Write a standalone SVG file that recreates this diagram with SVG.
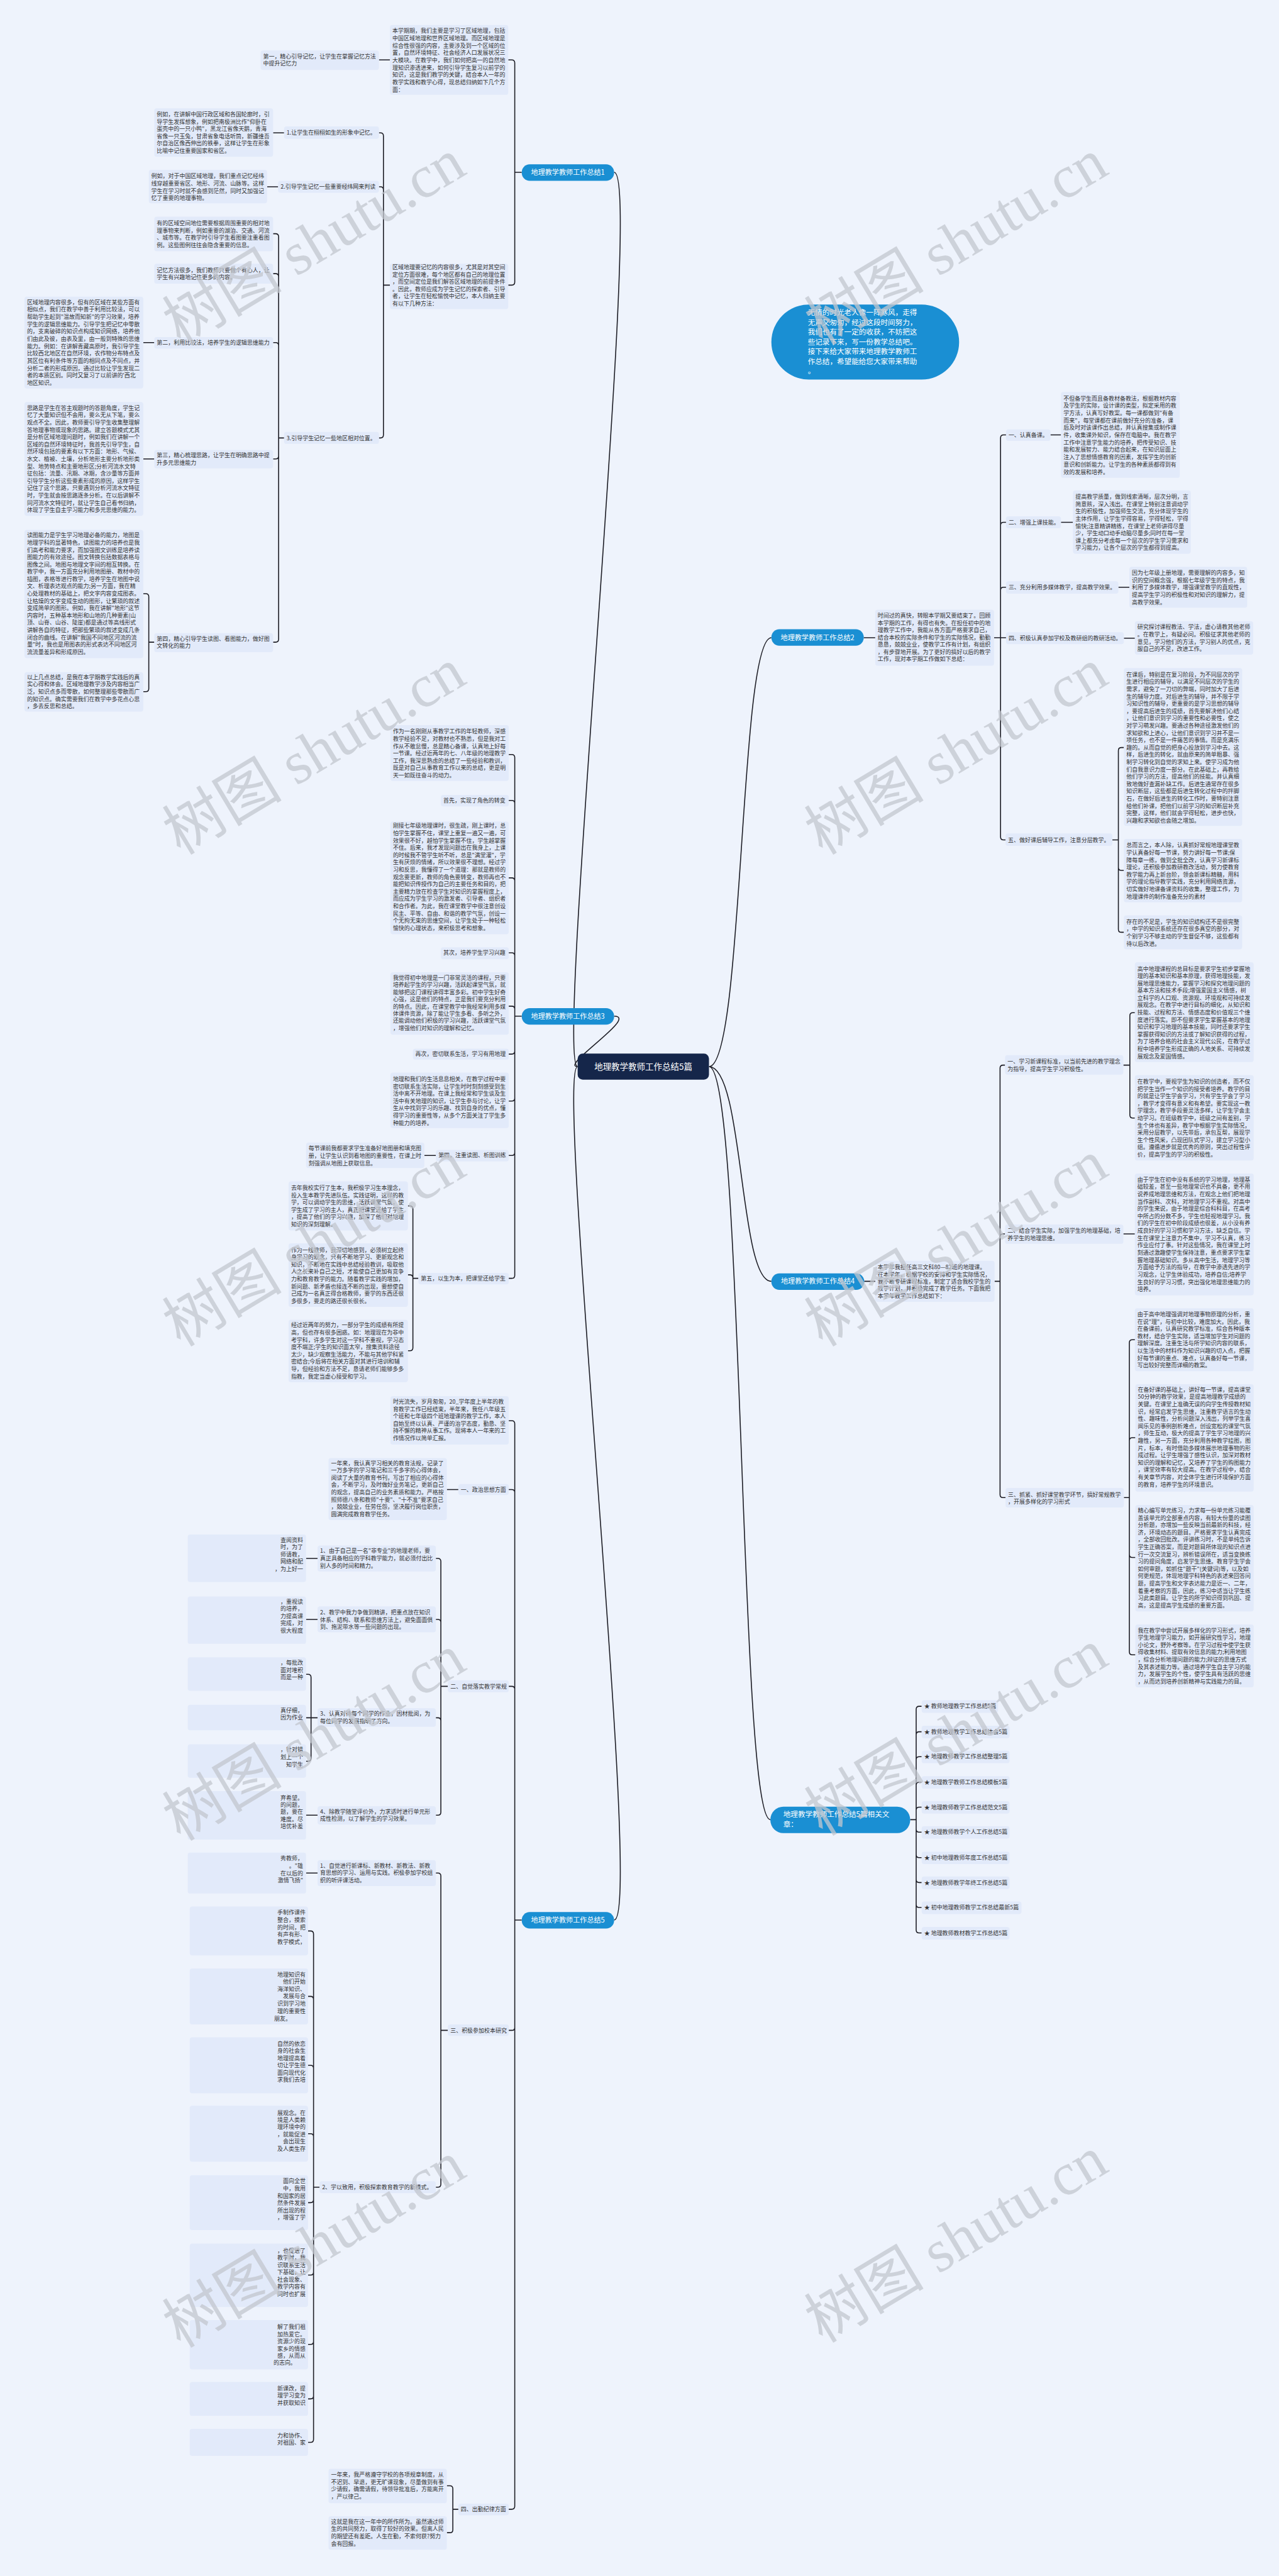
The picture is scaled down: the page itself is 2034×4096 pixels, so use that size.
<svg xmlns="http://www.w3.org/2000/svg" width="2034" height="4096" viewBox="0 0 2034 4096">
<style>
.b{fill:#e2eafa}
.t{font-family:"Noto Sans CJK SC","Liberation Sans",sans-serif;font-size:11.3px;fill:#333}
.te{font-family:"Noto Sans CJK SC","Liberation Sans",sans-serif;font-size:11.3px;fill:#333;text-anchor:end}
.c{fill:none;stroke:#1c1c24;stroke-width:2}
.s{fill:#1a8fd3}
.st{font-family:"Noto Sans CJK SC","Liberation Sans",sans-serif;font-size:14px;fill:#fff;text-anchor:middle}
.ct{font-family:"Noto Sans CJK SC","Liberation Sans",sans-serif;font-size:14.6px;fill:#fff}
.w{font-family:"Liberation Serif","Noto Sans CJK SC",serif;font-size:120px;fill:#c3c7cf;opacity:0.75;text-anchor:middle}
</style>
<rect width="2034" height="4096" fill="#eef3fc"/>
<g transform="scale(0.794)">
<g id="connectors">
<path class="c" d="M1045,345 H1031 V126 Q1031,120 1025,120 H1018 M1045,345 H1031 V565 Q1031,571 1025,571 H1018 M781,120 H759 M781,571 H768 V272 Q768,266 762,266 H759 M781,571 H768 V380 Q768,374 762,374 H759 M781,571 H768 V871 Q768,877 762,877 H759 M569,266 H547 M557,374 H535 M569,877 H558 V474 Q558,468 552,468 H547 M569,877 H558 V554 Q558,548 552,548 H547 M569,877 H558 V692 Q558,686 552,686 H547 M569,877 H558 V913 Q558,919 552,919 H547 M569,877 H558 V1280 Q558,1286 552,1286 H547 M309,686 H287 M309,919 H287 M309,1286 H298 V1195 Q298,1189 292,1189 H287 M309,1286 H298 V1379 Q298,1385 292,1385 H287"/>
<path class="c" d="M1730,1277 H1753 M1991,1277 H2004 V877 Q2004,871 2010,871 H2015 M1991,1277 H2004 V1052 Q2004,1046 2010,1046 H2015 M1991,1277 H2004 V1182 Q2004,1176 2010,1176 H2015 M1991,1277 H2015 M1991,1277 H2004 V1676 Q2004,1682 2010,1682 H2014 M2104,871 H2125 M2125,1046 H2149 M2240,1176 H2262 M2251,1278 H2273 M2228,1682 H2240 V1503 Q2240,1497 2246,1497 H2251 M2228,1682 H2240 V1737 Q2240,1743 2246,1743 H2251 M2228,1682 H2240 V1861 Q2240,1867 2246,1867 H2251"/>
<path class="c" d="M1045,2035 H1031 V1517 Q1031,1511 1025,1511 H1019 M1045,2035 H1031 V1609 Q1031,1603 1025,1603 H1019 M1045,2035 H1031 V1764 Q1031,1758 1025,1758 H1019 M1045,2035 H1031 V1914 Q1031,1908 1025,1908 H1019 M1045,2035 H1031 V2021 Q1031,2015 1025,2015 H1019 M1045,2035 H1031 V2105 Q1031,2111 1025,2111 H1019 M1045,2035 H1031 V2199 Q1031,2205 1025,2205 H1019 M1045,2035 H1031 V2308 Q1031,2314 1025,2314 H1019 M1045,2035 H1031 V2554 Q1031,2560 1025,2560 H1019 M873,2314 H850 M838,2560 H827 V2421 Q827,2415 821,2415 H817 M838,2560 H827 V2559 Q827,2553 821,2553 H817 M838,2560 H827 V2699 Q827,2705 821,2705 H817"/>
<path class="c" d="M1731,2566 H1753 M1992,2566 H2003 V2139 Q2003,2133 2009,2133 H2013 M1992,2566 H2003 V2477 Q2003,2471 2009,2471 H2013 M1992,2566 H2003 V2993 Q2003,2999 2009,2999 H2014 M2250,2133 H2263 V2034 Q2263,2028 2269,2028 H2273 M2250,2133 H2263 V2233 Q2263,2239 2269,2239 H2273 M2250,2471 H2273 M2251,2999 H2262 V2689 Q2262,2683 2268,2683 H2274 M2251,2999 H2262 V2885 Q2262,2879 2268,2879 H2274 M2251,2999 H2262 V3113 Q2262,3119 2268,3119 H2274 M2251,2999 H2262 V3308 Q2262,3314 2268,3314 H2274"/>
<path class="c" d="M1823,3644 H1835 V3423 Q1835,3417 1841,3417 H1846 M1823,3644 H1835 V3474 Q1835,3468 1841,3468 H1846 M1823,3644 H1835 V3524 Q1835,3518 1841,3518 H1846 M1823,3644 H1835 V3575 Q1835,3569 1841,3569 H1846 M1823,3644 H1835 V3625 Q1835,3619 1841,3619 H1846 M1823,3644 H1835 V3663 Q1835,3669 1841,3669 H1846 M1823,3644 H1835 V3714 Q1835,3720 1841,3720 H1846 M1823,3644 H1835 V3764 Q1835,3770 1841,3770 H1846 M1823,3644 H1835 V3814 Q1835,3820 1841,3820 H1846 M1823,3644 H1835 V3865 Q1835,3871 1841,3871 H1846"/>
<path class="c" d="M1045,3845 H1031 V2851 Q1031,2845 1025,2845 H1019 M1045,3845 H1031 V2989 Q1031,2983 1025,2983 H1019 M1045,3845 H1031 V3383 Q1031,3377 1025,3377 H1019 M1045,3845 H1031 V4060 Q1031,4066 1025,4066 H1019 M1045,3845 H1031 V5019 Q1031,5025 1025,5025 H1019 M918,2983 H895 M897,3377 H883 V3127 Q883,3121 877,3121 H873 M897,3377 H883 V3249 Q883,3243 877,3243 H873 M897,3377 H883 V3446 Q883,3440 877,3440 H873 M897,3377 H883 V3629 Q883,3635 877,3635 H873 M897,4066 H883 V3757 Q883,3751 877,3751 H873 M897,4066 H883 V4374 Q883,4380 877,4380 H873 M918,5025 H907 V4984 Q907,4978 901,4978 H895 M918,5025 H907 V5066 Q907,5072 901,5072 H895"/>
<path class="c" d="M636,3121 H613 M636,3243 H613 M636,3440 H623 V3359 Q623,3353 617,3353 H613 M636,3440 H613 M636,3440 H623 V3521 Q623,3527 617,3527 H613 M636,3635 H613 M636,3751 H613 M640,4380 H628 V3873 Q628,3867 622,3867 H617 M640,4380 H628 V4004 Q628,3998 622,3998 H617 M640,4380 H628 V4142 Q628,4136 622,4136 H617 M640,4380 H628 V4279 Q628,4273 622,4273 H617 M640,4380 H628 V4405 Q628,4411 622,4411 H617 M640,4380 H628 V4550 Q628,4556 622,4556 H617 M640,4380 H628 V4689 Q628,4695 622,4695 H617 M640,4380 H628 V4798 Q628,4804 622,4804 H617 M640,4380 H628 V4885 Q628,4891 622,4891 H617"/>
<path class="c" d="M1157,2136 C1110,2136 1290,345 1230,345 M1157,2136 C1120,2136 1280,2035 1230,2035 M1157,2136 C1110,2136 1290,3845 1230,3845 M1420,2136 C1490,2136 1480,1277 1545,1277 M1420,2136 C1490,2136 1480,2566 1545,2566 M1420,2136 C1490,2136 1480,3644 1543,3644"/>
</g>
<g id="center"><rect x="1157" y="2110" width="263" height="52" rx="10" fill="#15264a"/><text class="st" x="1288.5" y="2142" style="font-size:17px">地理教学教师工作总结5篇</text></g>
<g id="intro"><rect class="s" x="1545" y="610" width="376" height="150" rx="75"/><text class="ct" x="1618" y="631"><tspan x="1618">无情的时光老人像一阵寒风，走得</tspan><tspan x="1618" dy="19.6">无声又匆匆，经过这段时间努力，</tspan><tspan x="1618" dy="19.6">我们也有了一定的收获，不妨把这</tspan><tspan x="1618" dy="19.6">些记录下来，写一份教学总结吧。</tspan><tspan x="1618" dy="19.6">接下来给大家带来地理教学教师工</tspan><tspan x="1618" dy="19.6">作总结，希望能给您大家带来帮助</tspan><tspan x="1618" dy="19.6">。</tspan></text></g>
<g id="sec1"><rect class="s" x="1045" y="329" width="185" height="33" rx="16"/><text class="st" x="1137.5" y="350">地理教学教师工作总结1</text></g>
<g id="sec2"><rect class="s" x="1545" y="1260" width="185" height="33" rx="16"/><text class="st" x="1637.5" y="1282">地理教学教师工作总结2</text></g>
<g id="sec3"><rect class="s" x="1045" y="2019" width="185" height="33" rx="16"/><text class="st" x="1137.5" y="2040">地理教学教师工作总结3</text></g>
<g id="sec4"><rect class="s" x="1545" y="2550" width="186" height="33" rx="16"/><text class="st" x="1638" y="2571">地理教学教师工作总结4</text></g>
<g id="sec5"><rect class="s" x="1045" y="3829" width="185" height="33" rx="16"/><text class="st" x="1137.5" y="3850">地理教学教师工作总结5</text></g>
<g id="s1a"><rect class="b" x="781" y="50" width="237" height="140" rx="5"/><text class="t" x="786" y="66"><tspan x="786">本学期期，我们主要是学习了区域地理，包括</tspan><tspan x="786" dy="14.7">中国区域地理和世界区域地理。而区域地理是</tspan><tspan x="786" dy="14.7">综合性很强的内容，主要涉及到一个区域的位</tspan><tspan x="786" dy="14.7">置，自然环境特征、社会经济人口发展状况三</tspan><tspan x="786" dy="14.7">大模块。在教学中，我们如何把高一的自然地</tspan><tspan x="786" dy="14.7">理知识渗透进来，如何引导学生复习以前学的</tspan><tspan x="786" dy="14.7">知识，这是我们教学的关键，结合本人一年的</tspan><tspan x="786" dy="14.7">教学实践和教学心得，现总结归纳如下几个方</tspan><tspan x="786" dy="14.7">面：</tspan></text></g>
<g id="s1b"><rect class="b" x="522" y="101" width="237" height="39" rx="5"/><text class="t" x="527" y="117"><tspan x="527">第一，精心引导记忆，让学生在掌握记忆方法</tspan><tspan x="527" dy="14.4">中提升记忆力</tspan></text></g>
<g id="s1c"><rect class="b" x="781" y="528" width="237" height="91" rx="5"/><text class="t" x="786" y="539"><tspan x="786">区域地理要记忆的内容很多，尤其是对其空间</tspan><tspan x="786" dy="14.6">定位方面很难，每个地区都有自己的地理位置</tspan><tspan x="786" dy="14.6">，而空间定位是我们解答区域地理的前提条件</tspan><tspan x="786" dy="14.6">。因此，教师应成为学生记忆的探索者、引导</tspan><tspan x="786" dy="14.6">者，让学生在轻松愉悦中记忆，本人归纳主要</tspan><tspan x="786" dy="14.6">有以下几种方法：</tspan></text></g>
<g id="s1n1"><rect class="b" x="569" y="253" width="190" height="25" rx="5"/><text class="t" x="574" y="270">1.让学生在栩栩如生的形象中记忆。</text></g>
<g id="s1n1a"><rect class="b" x="309" y="217" width="238" height="97" rx="5"/><text class="t" x="314" y="233"><tspan x="314">例如，在讲解中国行政区域和各国轮廓时，引</tspan><tspan x="314" dy="14.6">导学生发挥想象，例如把南极洲比作"仰卧在</tspan><tspan x="314" dy="14.6">蛋壳中的一只小鸭"，黑龙江省像天鹅，青海</tspan><tspan x="314" dy="14.6">省像一只玉兔，甘肃省象电话听筒，新疆维吾</tspan><tspan x="314" dy="14.6">尔自治区像西伸出的铁拳，这样让学生在形象</tspan><tspan x="314" dy="14.6">比喻中记住重要国家和省区。</tspan></text></g>
<g id="s1n2"><rect class="b" x="557" y="362" width="202" height="24" rx="5"/><text class="t" x="562" y="378">2.引导学生记忆一些重要经纬网来判读</text></g>
<g id="s1n2a"><rect class="b" x="298" y="340" width="237" height="67" rx="5"/><text class="t" x="303" y="357"><tspan x="303">例如，对于中国区域地理，我们重点记忆经纬</tspan><tspan x="303" dy="14.6">线穿越重要省区、地形、河流、山脉等。这样</tspan><tspan x="303" dy="14.6">学生在学习时就不会感到茫然，同时又加强记</tspan><tspan x="303" dy="14.6">忆了重要的地理事物。</tspan></text></g>
<g id="s1n3"><rect class="b" x="569" y="865" width="190" height="24" rx="5"/><text class="t" x="574" y="881">3.引导学生记忆一些地区相对位置。</text></g>
<g id="s1n3a"><rect class="b" x="309" y="434" width="238" height="69" rx="5"/><text class="t" x="314" y="451"><tspan x="314">有的区域空间地位需要根据周围重要的相对地</tspan><tspan x="314" dy="14.6">理事物来判断，例如重要的湖泊、交通、河流</tspan><tspan x="314" dy="14.6">、城市等。在教学时引导学生看图要注重看图</tspan><tspan x="314" dy="14.6">例。这些图例往往会隐含重要的信息。</tspan></text></g>
<g id="s1n3b"><rect class="b" x="309" y="528" width="238" height="40" rx="5"/><text class="t" x="314" y="545"><tspan x="314">记忆方法很多，我们教师只要做个有心人，让</tspan><tspan x="314" dy="14.6">学生有兴趣地记住更多的内容。</tspan></text></g>
<g id="s1d2"><rect class="b" x="309" y="675" width="238" height="23" rx="5"/><text class="t" x="314" y="690">第二，利用比较法，培养学生的逻辑思维能力</text></g>
<g id="s1d3"><rect class="b" x="309" y="901" width="238" height="37" rx="5"/><text class="t" x="314" y="916"><tspan x="314">第三，精心梳理思路，让学生在明确思路中提</tspan><tspan x="314" dy="14.6">升多元思维能力</tspan></text></g>
<g id="s1d4"><rect class="b" x="309" y="1268" width="238" height="38" rx="5"/><text class="t" x="314" y="1283"><tspan x="314">第四，精心引导学生读图、看图能力，做好图</tspan><tspan x="314" dy="14.6">文转化的能力</tspan></text></g>
<g id="s1d2a"><rect class="b" x="49" y="594" width="238" height="184" rx="5"/><text class="t" x="54" y="609"><tspan x="54">区域地理内容很多，但有的区域在某些方面有</tspan><tspan x="54" dy="14.7">相似点，我们在教学中善于利用比较法，可以</tspan><tspan x="54" dy="14.7">帮助学生起到"温故而知新"的学习效果，培养</tspan><tspan x="54" dy="14.7">学生的逻辑思维能力。引导学生把记忆中零散</tspan><tspan x="54" dy="14.7">的，支离破碎的知识点构成知识网络，培养他</tspan><tspan x="54" dy="14.7">们由此及彼，由表及里，由一般到特殊的思维</tspan><tspan x="54" dy="14.7">能力。例如：在讲解青藏高原时，我引导学生</tspan><tspan x="54" dy="14.7">比较西北地区在自然环境，农作物分布特点及</tspan><tspan x="54" dy="14.7">其区位有利条件等方面的相同点及不同点，并</tspan><tspan x="54" dy="14.7">分析二者的形成原因，通过比较让学生发现二</tspan><tspan x="54" dy="14.7">者的本质区别。同时又复习了以前讲的'西北</tspan><tspan x="54" dy="14.7">地区知识。</tspan></text></g>
<g id="s1d3a"><rect class="b" x="49" y="805" width="238" height="228" rx="5"/><text class="t" x="54" y="821"><tspan x="54">思路是学生在答主观题时的答题角度，学生记</tspan><tspan x="54" dy="14.6">忆了大量知识但不会用，要么无从下笔，要么</tspan><tspan x="54" dy="14.6">观点不全。因此，教师要引导学生收集整理解</tspan><tspan x="54" dy="14.6">答地理事物或现象的思路。建立答题模式尤其</tspan><tspan x="54" dy="14.6">是分析区域地理问题时，例如我们在讲解一个</tspan><tspan x="54" dy="14.6">区域的自然环境特征时，我首先引导学生，自</tspan><tspan x="54" dy="14.6">然环境包括的要素有以下方面：地形、气候、</tspan><tspan x="54" dy="14.6">水文、植被、土壤，分析地形主要分析地形类</tspan><tspan x="54" dy="14.6">型、地势特点和主要地形区;分析河流水文特</tspan><tspan x="54" dy="14.6">征包括：流量、汛期、冰期，含沙量等方面并</tspan><tspan x="54" dy="14.6">引导学生分析这些要素形成的原因，这样学生</tspan><tspan x="54" dy="14.6">记住了这个思路，只要遇到分析河流水文特征</tspan><tspan x="54" dy="14.6">时，学生就会按思路逐条分析。在以后讲解不</tspan><tspan x="54" dy="14.6">同河流水文特征时，就让学生自己看书归纳，</tspan><tspan x="54" dy="14.6">体现了学生自主学习能力和多元思维的能力。</tspan></text></g>
<g id="s1d4a"><rect class="b" x="49" y="1061" width="238" height="257" rx="5"/><text class="t" x="54" y="1076"><tspan x="54">读图能力是学生学习地理必备的能力，地图是</tspan><tspan x="54" dy="14.6">地理学科的显著特色，读图能力的培养也是我</tspan><tspan x="54" dy="14.6">们高考和能力要求，而加强图文训练是培养读</tspan><tspan x="54" dy="14.6">图能力的有效途径。图文转换包括数据表格与</tspan><tspan x="54" dy="14.6">图像之间。地图与地理文字间的相互转换。在</tspan><tspan x="54" dy="14.6">教学中，我一方面充分利用地图册、教材中的</tspan><tspan x="54" dy="14.6">插图，表格等进行教学，培养学生在地图中说</tspan><tspan x="54" dy="14.6">文、析理表达观点的能力;另一方面，我在精</tspan><tspan x="54" dy="14.6">心处理教材的基础上，把文字内容变成图表。</tspan><tspan x="54" dy="14.6">让枯燥的文字变成生动的图形，让繁琐的叙述</tspan><tspan x="54" dy="14.6">变成简单的图形。例如，我在讲解"地形"这节</tspan><tspan x="54" dy="14.6">内容时，五种基本地形和山地的几种要素(山</tspan><tspan x="54" dy="14.6">顶、山脊、山谷、陡崖)都是通过等高线形式</tspan><tspan x="54" dy="14.6">讲解各自的特征，把那些繁琐的叙述变成几条</tspan><tspan x="54" dy="14.6">闭合的曲线。在讲解"我国不同地区河流的流</tspan><tspan x="54" dy="14.6">量"时，我也是用图表的形式表达不同地区河</tspan><tspan x="54" dy="14.6">流流量差异和形成原因。</tspan></text></g>
<g id="s1d4b"><rect class="b" x="49" y="1346" width="238" height="79" rx="5"/><text class="t" x="54" y="1360"><tspan x="54">以上几点总结，是我在本学期教学实践后的真</tspan><tspan x="54" dy="14.6">实心得和体会。区域地理教学涉及内容相当广</tspan><tspan x="54" dy="14.6">泛，知识点多而零散，如何整理那些零散而广</tspan><tspan x="54" dy="14.6">的知识点。确实需要我们在教学中多花点心思</tspan><tspan x="54" dy="14.6">，多去反思和总结。</tspan></text></g>
<g id="s2a"><rect class="b" x="1753" y="1221" width="238" height="112" rx="5"/><text class="t" x="1758" y="1237"><tspan x="1758">时间过的真快，转眼本学期又要结束了。回顾</tspan><tspan x="1758" dy="14.5">本学期的工作，有得也有失。在担任初中的地</tspan><tspan x="1758" dy="14.5">理教学工作中，我能从各方面严格要求自己，</tspan><tspan x="1758" dy="14.5">结合本校的实际条件和学生的实际情况，勤勤</tspan><tspan x="1758" dy="14.5">恳恳，兢兢业业，使教学工作有计划，有组织</tspan><tspan x="1758" dy="14.5">，有步骤地开展。为了更好的搞好以后的教学</tspan><tspan x="1758" dy="14.5">工作，现对本学期工作做如下总结：</tspan></text></g>
<g id="s2n1"><rect class="b" x="2015" y="860" width="89" height="23" rx="5"/><text class="t" x="2020" y="875">一、认真备课。</text></g>
<g id="s2n1a"><rect class="b" x="2125" y="785" width="238" height="172" rx="5"/><text class="t" x="2130" y="802"><tspan x="2130">不但备学生而且备教材备教法，根据教材内容</tspan><tspan x="2130" dy="14.7">及学生的实际，设计课的类型，拟定采用的教</tspan><tspan x="2130" dy="14.7">学方法，认真写好教案。每一课都做到"有备</tspan><tspan x="2130" dy="14.7">而来"，每堂课都在课前做好充分的准备，课</tspan><tspan x="2130" dy="14.7">后及时对该课作出总结，并认真搜集或制作课</tspan><tspan x="2130" dy="14.7">件，收集课外知识，保存在电脑中。我在教学</tspan><tspan x="2130" dy="14.7">工作中注意学生能力的培养，把传受知识、技</tspan><tspan x="2130" dy="14.7">能和发展智力、能力结合起来，在知识层面上</tspan><tspan x="2130" dy="14.7">注入了思想情感教育的因素，发挥学生的创新</tspan><tspan x="2130" dy="14.7">意识和创新能力。让学生的各种素质都得到有</tspan><tspan x="2130" dy="14.7">效的发展和培养。</tspan></text></g>
<g id="s2n2"><rect class="b" x="2015" y="1034" width="110" height="24" rx="5"/><text class="t" x="2020" y="1050">二、增强上课技能。</text></g>
<g id="s2n2a"><rect class="b" x="2149" y="982" width="236" height="127" rx="5"/><text class="t" x="2154" y="999"><tspan x="2154">提高教学质量，做到线索清晰，层次分明，言</tspan><tspan x="2154" dy="14.6">简意赅，深入浅出。在课堂上特别注意调动学</tspan><tspan x="2154" dy="14.6">生的积极性，加强师生交流，充分体现学生的</tspan><tspan x="2154" dy="14.6">主体作用，让学生学得容易，学得轻松，学得</tspan><tspan x="2154" dy="14.6">愉快;注意精讲精练，在课堂上老师讲得尽量</tspan><tspan x="2154" dy="14.6">少，学生动口动手动脑尽量多;同时在每一堂</tspan><tspan x="2154" dy="14.6">课上都充分考虑每一个层次的学生学习需求和</tspan><tspan x="2154" dy="14.6">学习能力，让各个层次的学生都得到提高。</tspan></text></g>
<g id="s2n3"><rect class="b" x="2015" y="1164" width="225" height="25" rx="5"/><text class="t" x="2020" y="1180">三、充分利用多媒体教学，提高教学效果。</text></g>
<g id="s2n3a"><rect class="b" x="2262" y="1135" width="236" height="82" rx="5"/><text class="t" x="2267" y="1151"><tspan x="2267">因为七年级上册地理，需要理解的内容多，知</tspan><tspan x="2267" dy="14.7">识的空间概念强，根据七年级学生的特点，我</tspan><tspan x="2267" dy="14.7">利用了多媒体教学，增强课堂教学的直观性，</tspan><tspan x="2267" dy="14.7">提高学生学习的积极性和对知识的理解力，提</tspan><tspan x="2267" dy="14.7">高教学效果。</tspan></text></g>
<g id="s2n4"><rect class="b" x="2015" y="1266" width="236" height="24" rx="5"/><text class="t" x="2020" y="1282">四、积极认真参加学校及教研组的教研活动。</text></g>
<g id="s2n4a"><rect class="b" x="2273" y="1244" width="237" height="67" rx="5"/><text class="t" x="2278" y="1260"><tspan x="2278">研究探讨课程教法、学法，虚心请教其他老师</tspan><tspan x="2278" dy="14.7">。在教学上，有疑必问。积极征求其他老师的</tspan><tspan x="2278" dy="14.7">意见，学习他们的方法，学习别人的优点，克</tspan><tspan x="2278" dy="14.7">服自己的不足，改进工作。</tspan></text></g>
<g id="s2n5"><rect class="b" x="2014" y="1669" width="214" height="25" rx="5"/><text class="t" x="2019" y="1686">五、做好课后辅导工作，注意分层教学。</text></g>
<g id="s2n5a"><rect class="b" x="2251" y="1338" width="237" height="316" rx="5"/><text class="t" x="2256" y="1355"><tspan x="2256">在课后，特别是在复习阶段，为不同层次的学</tspan><tspan x="2256" dy="14.6">生进行相应的辅导，以满足不同层次的学生的</tspan><tspan x="2256" dy="14.6">需求，避免了一刀切的弊端，同时加大了后进</tspan><tspan x="2256" dy="14.6">生的辅导力度。对后进生的辅导，并不限于学</tspan><tspan x="2256" dy="14.6">习知识性的辅导，更重要的是学习思想的辅导</tspan><tspan x="2256" dy="14.6">，要提高后进生的成绩，首先要解决他们心结</tspan><tspan x="2256" dy="14.6">，让他们意识到学习的重要性和必要性，使之</tspan><tspan x="2256" dy="14.6">对学习萌发兴趣。要通过各种途径激发他们的</tspan><tspan x="2256" dy="14.6">求知欲和上进心，让他们意识到学习并不是一</tspan><tspan x="2256" dy="14.6">项任务，也不是一件痛苦的事情。而是充满乐</tspan><tspan x="2256" dy="14.6">趣的。从而自觉的把身心投放到学习中去。这</tspan><tspan x="2256" dy="14.6">样，后进生的转化，就由原来的简单粗暴、强</tspan><tspan x="2256" dy="14.6">制学习转化到自觉的求知上来。使学习成为他</tspan><tspan x="2256" dy="14.6">们自我意识力度一部分。在此基础上，再教给</tspan><tspan x="2256" dy="14.6">他们学习的方法，提高他们的技能。并认真细</tspan><tspan x="2256" dy="14.6">致地做好查漏补缺工作。后进生通常存在很多</tspan><tspan x="2256" dy="14.6">知识断层，这些都是后进生转化过程中的拌脚</tspan><tspan x="2256" dy="14.6">石，在做好后进生的转化工作时，要特别注意</tspan><tspan x="2256" dy="14.6">给他们补课，把他们以前学习的知识断层补充</tspan><tspan x="2256" dy="14.6">完整，这样，他们就会学得轻松，进步也快，</tspan><tspan x="2256" dy="14.6">兴趣和求知欲也会随之增加。</tspan></text></g>
<g id="s2n5b"><rect class="b" x="2251" y="1680" width="237" height="127" rx="5"/><text class="t" x="2256" y="1697"><tspan x="2256">总而言之，本人除，认真抓好常规地理课堂教</tspan><tspan x="2256" dy="14.6">学认真备好每一节课，努力讲好每一节课;保</tspan><tspan x="2256" dy="14.6">障每章一练，做到全批全改，认真学习新课标</tspan><tspan x="2256" dy="14.6">理论，还积极参加教研教改活动，努力使教育</tspan><tspan x="2256" dy="14.6">教学能力再上新台阶，领会新课标精髓，用科</tspan><tspan x="2256" dy="14.6">学的理论指导教学实践，充分利用网络资源，</tspan><tspan x="2256" dy="14.6">切实做好地课备课资料的收集，整理工作，为</tspan><tspan x="2256" dy="14.6">地理课件的制作准备充分的素材</tspan></text></g>
<g id="s2n5c"><rect class="b" x="2251" y="1833" width="237" height="68" rx="5"/><text class="t" x="2256" y="1850"><tspan x="2256">存在的不足是，学生的知识结构还不是很完整</tspan><tspan x="2256" dy="14.6">，中学的知识系统还存在很多真空的部分，对</tspan><tspan x="2256" dy="14.6">个别学习不够主动的学生督促不够，这些都有</tspan><tspan x="2256" dy="14.6">待以后改进。</tspan></text></g>
<g id="s3a"><rect class="b" x="782" y="1452" width="237" height="112" rx="5"/><text class="t" x="787" y="1469"><tspan x="787">作为一名刚刚从事教学工作的年轻教师，深感</tspan><tspan x="787" dy="14.6">教学经验不足，对教材也不熟悉，但是我对工</tspan><tspan x="787" dy="14.6">作从不敢怠慢，总是精心备课，认真地上好每</tspan><tspan x="787" dy="14.6">一节课。经过近两年的七、八年级的地理教学</tspan><tspan x="787" dy="14.6">工作，我深思熟虑的总结了一些经验和教训，</tspan><tspan x="787" dy="14.6">既是对自己从事教育工作以来的总结，更是明</tspan><tspan x="787" dy="14.6">天一如既往奋斗的动力。</tspan></text></g>
<g id="s3b"><rect class="b" x="883" y="1592" width="136" height="23" rx="5"/><text class="t" x="888" y="1607">首先，实现了角色的转变</text></g>
<g id="s3c"><rect class="b" x="782" y="1645" width="237" height="226" rx="5"/><text class="t" x="787" y="1658"><tspan x="787">刚接七年级地理课时，很生疏，刚上课时，总</tspan><tspan x="787" dy="14.6">怕学生掌握不住，课堂上重复一遍又一遍，可</tspan><tspan x="787" dy="14.6">效果很不好，越怕学生掌握不住，学生越掌握</tspan><tspan x="787" dy="14.6">不住。后来，我才发现问题出在我身上，上课</tspan><tspan x="787" dy="14.6">的时候我不管学生听不听，总是"满堂灌"，学</tspan><tspan x="787" dy="14.6">生有厌烦的情绪，所以效果很不理想。经过学</tspan><tspan x="787" dy="14.6">习和反思，我懂得了一个道理：那就是教师的</tspan><tspan x="787" dy="14.6">观念要更新，教师的角色要转变，教师再也不</tspan><tspan x="787" dy="14.6">能把知识传授作为自己的主要任务和目的，把</tspan><tspan x="787" dy="14.6">主要精力放在检查学生对知识的掌握程度上，</tspan><tspan x="787" dy="14.6">而应成为学生学习的激发者、引导者、组织者</tspan><tspan x="787" dy="14.6">和合作者。为此，我在课堂教学中很注意创设</tspan><tspan x="787" dy="14.6">民主、平等、自由、和谐的教学气氛，创设一</tspan><tspan x="787" dy="14.6">个无拘无束的思维空间，让学生处于一种轻松</tspan><tspan x="787" dy="14.6">愉快的心理状态，来积极思考和想象。</tspan></text></g>
<g id="s3d"><rect class="b" x="883" y="1897" width="136" height="24" rx="5"/><text class="t" x="888" y="1912">其次，培养学生学习兴趣</text></g>
<g id="s3e"><rect class="b" x="782" y="1947" width="237" height="125" rx="5"/><text class="t" x="787" y="1962"><tspan x="787">我觉得初中地理是一门非常灵活的课程，只要</tspan><tspan x="787" dy="14.4">培养起学生的学习兴趣，活跃起课堂气氛，就</tspan><tspan x="787" dy="14.4">能够把这门课程讲得丰富多彩。初中学生好奇</tspan><tspan x="787" dy="14.4">心强，这是他们的特点，正是我们要充分利用</tspan><tspan x="787" dy="14.4">的特点。因此，在课堂教学中我经常利用多媒</tspan><tspan x="787" dy="14.4">体课件资源，除了能让学生多看、多听之外，</tspan><tspan x="787" dy="14.4">还能调动他们积极的学习兴趣，活跃课堂气氛</tspan><tspan x="787" dy="14.4">，增强他们对知识的理解和记忆。</tspan></text></g>
<g id="s3f"><rect class="b" x="827" y="2100" width="192" height="22" rx="5"/><text class="t" x="832" y="2115">再次，密切联系生活，学习有用地理</text></g>
<g id="s3g"><rect class="b" x="782" y="2148" width="237" height="111" rx="5"/><text class="t" x="787" y="2165"><tspan x="787">地理和我们的生活息息相关，在教学过程中要</tspan><tspan x="787" dy="14.6">密切联系生活实际，让学生时时刻刻感受到生</tspan><tspan x="787" dy="14.6">活中离不开地理。在课上我经常和学生谈及生</tspan><tspan x="787" dy="14.6">活中有关地理的知识，让学生参与讨论，让学</tspan><tspan x="787" dy="14.6">生从中找到学习的乐趣、找到自身的优点，懂</tspan><tspan x="787" dy="14.6">得学习的重要性等，从多个方面关注了学生多</tspan><tspan x="787" dy="14.6">种能力的培养。</tspan></text></g>
<g id="s3h"><rect class="b" x="873" y="2303" width="146" height="23" rx="5"/><text class="t" x="878" y="2318">第四，注重读图、析图训练</text></g>
<g id="s3h1"><rect class="b" x="613" y="2288" width="237" height="51" rx="5"/><text class="t" x="618" y="2304"><tspan x="618">每节课前我都要求学生准备好地图册和填充图</tspan><tspan x="618" dy="14.6">册，让学生认识到看地图的重要性，在课上时</tspan><tspan x="618" dy="14.6">刻强调从地图上获取信息。</tspan></text></g>
<g id="s3i"><rect class="b" x="838" y="2549" width="181" height="23" rx="5"/><text class="t" x="843" y="2564">第五，以生为本，把课堂还给学生</text></g>
<g id="s3i1"><rect class="b" x="578" y="2366" width="239" height="98" rx="5"/><text class="t" x="583" y="2383"><tspan x="583">去年我校实行了生本，我积极学习生本理念，</tspan><tspan x="583" dy="14.5">投入生本教学先进队伍。实践证明，这样的教</tspan><tspan x="583" dy="14.5">学，可以调动学生的思维，活跃课堂气氛，使</tspan><tspan x="583" dy="14.5">学生成了学习的主人，真正把课堂还给了学生</tspan><tspan x="583" dy="14.5">，提高了他们的学习兴趣，加深了他们对地理</tspan><tspan x="583" dy="14.5">知识的深刻理解。</tspan></text></g>
<g id="s3i2"><rect class="b" x="578" y="2490" width="239" height="127" rx="5"/><text class="t" x="583" y="2507"><tspan x="583">作为一线教师，我深切地感到，必须树立起终</tspan><tspan x="583" dy="14.6">身学习的观念，只有不断地学习、更新观念和</tspan><tspan x="583" dy="14.6">知识，不断地在实践中总结经验教训，吸取他</tspan><tspan x="583" dy="14.6">人之长来补自己之短，才能使自己更加有竞争</tspan><tspan x="583" dy="14.6">力和教育教学的能力。随着教学实践的增加，</tspan><tspan x="583" dy="14.6">新问题、新矛盾也接连不断的出现，要想使自</tspan><tspan x="583" dy="14.6">己成为一名真正得合格教师，要学的东西还很</tspan><tspan x="583" dy="14.6">多很多，要走的路还很长很长。</tspan></text></g>
<g id="s3i3"><rect class="b" x="578" y="2643" width="239" height="125" rx="5"/><text class="t" x="583" y="2658"><tspan x="583">经过近两年的努力，一部分学生的成绩有所提</tspan><tspan x="583" dy="14.6">高，但也存有很多困惑。如：地理现在为非中</tspan><tspan x="583" dy="14.6">考学科，许多学生对这一学科不重视，学习态</tspan><tspan x="583" dy="14.6">度不端正;学生的知识面太窄，搜集资料途径</tspan><tspan x="583" dy="14.6">太少，缺少观察生活能力，不能与其他学科紧</tspan><tspan x="583" dy="14.6">密结合;今后将在相关方面对其进行培训和辅</tspan><tspan x="583" dy="14.6">导，但经验和方法不足，恳请老师们能够多多</tspan><tspan x="583" dy="14.6">指教，我定当虚心接受和学习。</tspan></text></g>
<g id="s4a"><rect class="b" x="1753" y="2525" width="239" height="82" rx="5"/><text class="t" x="1758" y="2542"><tspan x="1758">本学年我担任高三文科80—82班的地理课。</tspan><tspan x="1758" dy="14.3">在本学年，根据学校的安排和学生实际情况，</tspan><tspan x="1758" dy="14.3">我不断专研课程标准，制定了适合我校学生的</tspan><tspan x="1758" dy="14.3">教学计划，并积极完成了教学任务。下面我把</tspan><tspan x="1758" dy="14.3">本学年教学工作总结如下：</tspan></text></g>
<g id="s4n1"><rect class="b" x="2013" y="2113" width="237" height="39" rx="5"/><text class="t" x="2018" y="2130"><tspan x="2018">一、学习新课程标准，以当前先进的教学理念</tspan><tspan x="2018" dy="14.4">为指导，提高学生学习积极性。</tspan></text></g>
<g id="s4n1a"><rect class="b" x="2273" y="1927" width="238" height="200" rx="5"/><text class="t" x="2278" y="1944"><tspan x="2278">高中地理课程的总目标是要求学生初步掌握地</tspan><tspan x="2278" dy="14.6">理的基本知识和基本原理，获得地理技能，发</tspan><tspan x="2278" dy="14.6">展地理思维能力，掌握学习和探究地理问题的</tspan><tspan x="2278" dy="14.6">基本方法和技术手段;增强爱国主义情感，树</tspan><tspan x="2278" dy="14.6">立科学的人口观、资源观、环境观和可持续发</tspan><tspan x="2278" dy="14.6">展观念。在教学中进行目标的细化，从知识和</tspan><tspan x="2278" dy="14.6">技能、过程和方法、情感态度和价值观三个维</tspan><tspan x="2278" dy="14.6">度进行落实。即不但要求学生掌握基本的地理</tspan><tspan x="2278" dy="14.6">知识和学习地理的基本技能，同时还要求学生</tspan><tspan x="2278" dy="14.6">掌握获得知识的方法或了解知识获得的过程，</tspan><tspan x="2278" dy="14.6">为了培养合格的社会主义现代公民，在教学过</tspan><tspan x="2278" dy="14.6">程中培养学生形成正确的人地关系、可持续发</tspan><tspan x="2278" dy="14.6">展观念及爱国情感。</tspan></text></g>
<g id="s4n1b"><rect class="b" x="2273" y="2153" width="238" height="171" rx="5"/><text class="t" x="2278" y="2170"><tspan x="2278">在教学中，要视学生为知识的创造者，而不仅</tspan><tspan x="2278" dy="14.6">把学生当作一个知识的接受者培养。教学的目</tspan><tspan x="2278" dy="14.6">的就是让学生学会学习，只有学生学会了学习</tspan><tspan x="2278" dy="14.6">，教学才变得有意义和有希望。要实现这一教</tspan><tspan x="2278" dy="14.6">学理念，教学手段要灵活多样，让学生学会主</tspan><tspan x="2278" dy="14.6">动学习。在班级教学中，班级之间有差别，学</tspan><tspan x="2278" dy="14.6">生个体也有差异，教学中根据学生实际情况，</tspan><tspan x="2278" dy="14.6">采用分层教学，以先带后，承包互帮，展现学</tspan><tspan x="2278" dy="14.6">生个性风采，凸现团队式学习，建立学习型小</tspan><tspan x="2278" dy="14.6">组。遵循进步就是优秀的原则，突出过程性评</tspan><tspan x="2278" dy="14.6">价，提高学生的学习的积极性。</tspan></text></g>
<g id="s4n2"><rect class="b" x="2013" y="2452" width="237" height="39" rx="5"/><text class="t" x="2018" y="2469"><tspan x="2018">二、结合学生实际，加强学生的地理基础，培</tspan><tspan x="2018" dy="14.4">养学生的地理思维。</tspan></text></g>
<g id="s4n2a"><rect class="b" x="2273" y="2350" width="238" height="244" rx="5"/><text class="t" x="2278" y="2366"><tspan x="2278">由于学生在初中没有系统的学习地理，地理基</tspan><tspan x="2278" dy="14.67">础较差，甚至一些地理常识也不具备，更不用</tspan><tspan x="2278" dy="14.67">说养成地理思维和方法，在观念上他们把地理</tspan><tspan x="2278" dy="14.67">当作副科、次科，对地理学习不重视。对高中</tspan><tspan x="2278" dy="14.67">的学生来说，由于地理是综合科科目，在高考</tspan><tspan x="2278" dy="14.67">中所占的分数不多，学生也轻视地理学习。我</tspan><tspan x="2278" dy="14.67">们的学生在初中阶段成绩也很差，从小没有养</tspan><tspan x="2278" dy="14.67">成良好的学习习惯和学习方法，缺乏自信。学</tspan><tspan x="2278" dy="14.67">生在课堂上注意力不集中，学习不认真，练习</tspan><tspan x="2278" dy="14.67">作业应付了事。针对这些情况，我在课堂上时</tspan><tspan x="2278" dy="14.67">刻通过激趣使学生保持注意，重点要求学生掌</tspan><tspan x="2278" dy="14.67">握地理基础知识。多从高中生活，地理学习等</tspan><tspan x="2278" dy="14.67">方面给予方法的指导，在教学中渗透先进的学</tspan><tspan x="2278" dy="14.67">习观念，让学生体验成功，培养自信;培养学</tspan><tspan x="2278" dy="14.67">生良好的学习习惯，突出强化地理思维能力的</tspan><tspan x="2278" dy="14.67">培养。</tspan></text></g>
<g id="s4n3"><rect class="b" x="2014" y="2980" width="237" height="39" rx="5"/><text class="t" x="2019" y="2997"><tspan x="2019">三、抓紧、抓好课堂教学环节，搞好常规教学</tspan><tspan x="2019" dy="14.4">，开展多样化的学习形式</tspan></text></g>
<g id="s4n3a"><rect class="b" x="2273" y="2620" width="238" height="126" rx="5"/><text class="t" x="2278" y="2636"><tspan x="2278">由于高中地理强调对地理事物原理的分析，重</tspan><tspan x="2278" dy="14.6">在说"理"，与初中比较，难度加大。因此，我</tspan><tspan x="2278" dy="14.6">在备课前，认真研究教学标准，综合各种版本</tspan><tspan x="2278" dy="14.6">教材，结合学生实际，适当增加学生对问题的</tspan><tspan x="2278" dy="14.6">理解深度。注重生活与所学知识内容的联系，</tspan><tspan x="2278" dy="14.6">以生活中的材料作为知识兴趣的切入点，把握</tspan><tspan x="2278" dy="14.6">好每节课的重点、难点，认真备好每一节课，</tspan><tspan x="2278" dy="14.6">写出较好完整而详细的教案。</tspan></text></g>
<g id="s4n3b"><rect class="b" x="2274" y="2772" width="237" height="215" rx="5"/><text class="t" x="2279" y="2787"><tspan x="2279">在备好课的基础上，讲好每一节课，提高课堂</tspan><tspan x="2279" dy="14.6">50分钟的教学效果，是提高地理教学成绩的</tspan><tspan x="2279" dy="14.6">关键。在课堂上准确无误的向学生传授教材知</tspan><tspan x="2279" dy="14.6">识，经常启发学生思维，注重教学语言的生动</tspan><tspan x="2279" dy="14.6">性、趣味性，分析问题深入浅出，列举学生喜</tspan><tspan x="2279" dy="14.6">闻乐见的事例剖析难点，创设宽松的课堂气氛</tspan><tspan x="2279" dy="14.6">，师生互动，极大的提高了学生学习地理的兴</tspan><tspan x="2279" dy="14.6">趣性，另一方面，充分利用各种教学挂图，图</tspan><tspan x="2279" dy="14.6">片，标本，有时借助多媒体展示地理事物的形</tspan><tspan x="2279" dy="14.6">成过程。让学生增强了感性认识，加深对教材</tspan><tspan x="2279" dy="14.6">知识的理解和记忆，又培养了学生的购图能力</tspan><tspan x="2279" dy="14.6">，课堂效率有较大提高。在教学过程中，结合</tspan><tspan x="2279" dy="14.6">有关章节内容，对全体学生进行环境保护方面</tspan><tspan x="2279" dy="14.6">的教育，培养学生的环境意识。</tspan></text></g>
<g id="s4n3c"><rect class="b" x="2274" y="3014" width="237" height="213" rx="5"/><text class="t" x="2279" y="3029"><tspan x="2279">精心编写单元练习，力求每一份单元练习能覆</tspan><tspan x="2279" dy="14.6">盖该单元的全部重点内容，有较大份量的读图</tspan><tspan x="2279" dy="14.6">分析题，亦增加一些反映当前最新的科技，经</tspan><tspan x="2279" dy="14.6">济，环境动态的题目。严格要求学生认真完成</tspan><tspan x="2279" dy="14.6">，全部收回批改。评讲练习时，不是单纯告诉</tspan><tspan x="2279" dy="14.6">学生正确答案，而是对题目所体现的知识点进</tspan><tspan x="2279" dy="14.6">行一次交流复习，辨析错误所在，适当变换练</tspan><tspan x="2279" dy="14.6">习的提问角度，启发学生思维。教育学生学会</tspan><tspan x="2279" dy="14.6">如何审题，如抓住"题干"(关键词)等，以及如</tspan><tspan x="2279" dy="14.6">何更规范，体现地理学科特色的表述来回答问</tspan><tspan x="2279" dy="14.6">题，提高学生和文字表达能力是近一、二年，</tspan><tspan x="2279" dy="14.6">着重考察的方面，因此，练习中适当让学生练</tspan><tspan x="2279" dy="14.6">习此类题目。让学生的所学知识得到巩固、提</tspan><tspan x="2279" dy="14.6">高，这是提高学生成绩的重要方面。</tspan></text></g>
<g id="s4n3d"><rect class="b" x="2274" y="3253" width="237" height="126" rx="5"/><text class="t" x="2279" y="3269"><tspan x="2279">我在教学中尝试开展多样化的学习形式，培养</tspan><tspan x="2279" dy="14.6">学生地理学习能力，如开展研究性学习，地理</tspan><tspan x="2279" dy="14.6">小论文，野外考察等。在学习过程中使学生获</tspan><tspan x="2279" dy="14.6">得收集材料、提取有效信息的能力;利用地图</tspan><tspan x="2279" dy="14.6">，综合分析地理问题的能力;辩证的思维方式</tspan><tspan x="2279" dy="14.6">及其表述能力等。通过培养学生自主学习的能</tspan><tspan x="2279" dy="14.6">力，发展学生的个性，使学生具有活跃的思维</tspan><tspan x="2279" dy="14.6">，从而达到培养创新精神与实践能力的目。</tspan></text></g>
<g id="related"><rect class="s" x="1543" y="3618" width="280" height="53" rx="26"/><text class="ct" x="1569" y="3639"><tspan x="1569">地理教学教师工作总结5篇相关文</tspan><tspan x="1569" dy="20">章：</tspan></text></g>
<g id="rel1"><rect class="b" x="1846" y="3405" width="153" height="25" rx="5"/><text class="t" x="1851" y="3421">★ 教师地理教学工作总结5篇</text></g>
<g id="rel2"><rect class="b" x="1846" y="3456" width="176" height="25" rx="5"/><text class="t" x="1851" y="3472">★ 教师地理教学工作总结体会5篇</text></g>
<g id="rel3"><rect class="b" x="1846" y="3506" width="176" height="25" rx="5"/><text class="t" x="1851" y="3522">★ 地理教师教学工作总结整理5篇</text></g>
<g id="rel4"><rect class="b" x="1846" y="3557" width="176" height="25" rx="5"/><text class="t" x="1851" y="3573">★ 地理教学教师工作总结模板5篇</text></g>
<g id="rel5"><rect class="b" x="1846" y="3607" width="176" height="25" rx="5"/><text class="t" x="1851" y="3623">★ 地理教师教学工作总结范文5篇</text></g>
<g id="rel6"><rect class="b" x="1846" y="3657" width="176" height="25" rx="5"/><text class="t" x="1851" y="3673">★ 地理教师教学个人工作总结5篇</text></g>
<g id="rel7"><rect class="b" x="1846" y="3708" width="176" height="25" rx="5"/><text class="t" x="1851" y="3724">★ 初中地理教师年度工作总结5篇</text></g>
<g id="rel8"><rect class="b" x="1846" y="3758" width="176" height="25" rx="5"/><text class="t" x="1851" y="3774">★ 地理教师教学年终工作总结5篇</text></g>
<g id="rel9"><rect class="b" x="1846" y="3808" width="200" height="25" rx="5"/><text class="t" x="1851" y="3824">★ 初中地理教师教学工作总结最新5篇</text></g>
<g id="rel10"><rect class="b" x="1846" y="3859" width="176" height="25" rx="5"/><text class="t" x="1851" y="3875">★ 地理教师教材教学工作总结5篇</text></g>
<g id="s5a"><rect class="b" x="782" y="2796" width="237" height="97" rx="5"/><text class="t" x="787" y="2811"><tspan x="787">时光流失，岁月匆匆，20_学年度上半年的教</tspan><tspan x="787" dy="14.6">育教学工作已经结束，半年来，我任八年级五</tspan><tspan x="787" dy="14.6">个班和七年级四个班地理课的教学工作，本人</tspan><tspan x="787" dy="14.6">自始至终以认真、严谨的治学态度，勤恳、坚</tspan><tspan x="787" dy="14.6">持不懈的精神从事工作。现将本人一年来的工</tspan><tspan x="787" dy="14.6">作情况作以简单汇报。</tspan></text></g>
<g id="s5n1"><rect class="b" x="918" y="2972" width="101" height="22" rx="5"/><text class="t" x="923" y="2987">一、政治思想方面</text></g>
<g id="s5n1a"><rect class="b" x="658" y="2920" width="237" height="124" rx="5"/><text class="t" x="663" y="2934"><tspan x="663">一年来，我认真学习相关的教育法规，记录了</tspan><tspan x="663" dy="14.6">一万多字的学习笔记和三千多字的心得体会，</tspan><tspan x="663" dy="14.6">阅读了大量的教育书刊，写出了相应的心得体</tspan><tspan x="663" dy="14.6">会，不断学习，及时做好业务笔记，更新自己</tspan><tspan x="663" dy="14.6">的观念，提高自己的业务素质和能力。严格按</tspan><tspan x="663" dy="14.6">照师德八条和教师"十要"、"十不准"要求自己</tspan><tspan x="663" dy="14.6">，兢兢业业，任劳任怨，坚决履行岗位职责，</tspan><tspan x="663" dy="14.6">圆满完成教育教学任务。</tspan></text></g>
<g id="s5n2"><rect class="b" x="897" y="3365" width="122" height="24" rx="5"/><text class="t" x="902" y="3381">二、自觉落实教学常规</text></g>
<g id="s5n21"><rect class="b" x="636" y="3095" width="237" height="52" rx="5"/><text class="t" x="641" y="3110"><tspan x="641">1、由于自己是一名"非专业"的地理老师，要</tspan><tspan x="641" dy="14.6">真正具备相应的学科教学能力，就必须付出比</tspan><tspan x="641" dy="14.6">别人多的时间和精力。</tspan></text></g>
<g id="s5n22"><rect class="b" x="636" y="3217" width="237" height="52" rx="5"/><text class="t" x="641" y="3233"><tspan x="641">2、教学中我力争做到精讲，把重点放在知识</tspan><tspan x="641" dy="14.6">体系、结构、联系和思维方法上，避免面面俱</tspan><tspan x="641" dy="14.6">到、拖泥带水等一些问题的出现。</tspan></text></g>
<g id="s5n23"><rect class="b" x="636" y="3421" width="237" height="37" rx="5"/><text class="t" x="641" y="3436"><tspan x="641">3、认真对待每个同学的作业，因材批阅，为</tspan><tspan x="641" dy="14.6">每位同学的发展指明了方向。</tspan></text></g>
<g id="s5n24"><rect class="b" x="636" y="3617" width="237" height="37" rx="5"/><text class="t" x="641" y="3632"><tspan x="641">4、除教学随堂评价外，力求适时进行单元形</tspan><tspan x="641" dy="14.6">成性检测，以了解学生的学习效果。</tspan></text></g>
<g id="s5n3"><rect class="b" x="897" y="4054" width="122" height="23" rx="5"/><text class="t" x="902" y="4070">三、积极参加校本研究</text></g>
<g id="s5n31"><rect class="b" x="636" y="3725" width="237" height="52" rx="5"/><text class="t" x="641" y="3740"><tspan x="641">1、自觉进行新课标、新教材、新教法、新教</tspan><tspan x="641" dy="14.6">育思想的学习、运用与实践。积极参加学校组</tspan><tspan x="641" dy="14.6">织的听评课活动。</tspan></text></g>
<g id="s5n32"><rect class="b" x="640" y="4368" width="233" height="24" rx="5"/><text class="t" x="645" y="4384">2、学以致用，积极探索教育教学的新模式。</text></g>
<g id="s5leaves">
<rect class="b" x="376" y="3073" width="237" height="95" rx="5"/>
<text class="te" x="607" y="3088"><tspan x="607">查阅资料</tspan><tspan x="607" dy="14.4">时，为了</tspan><tspan x="607" dy="14.4">师请教，</tspan><tspan x="607" dy="14.4">网络和配</tspan><tspan x="607" dy="14.4">，为上好一</tspan></text>
<rect class="b" x="376" y="3197" width="237" height="95" rx="5"/>
<text class="te" x="607" y="3211"><tspan x="607">，重视读</tspan><tspan x="607" dy="14.6">的培养，</tspan><tspan x="607" dy="14.6">力提高课</tspan><tspan x="607" dy="14.6">完成，对</tspan><tspan x="607" dy="14.6">很大程度</tspan></text>
<rect class="b" x="376" y="3319" width="237" height="67" rx="5"/>
<text class="te" x="607" y="3334"><tspan x="607">，每批改</tspan><tspan x="607" dy="14.6">面对堆积</tspan><tspan x="607" dy="14.6">而是一种</tspan></text>
<rect class="b" x="376" y="3414" width="237" height="51" rx="5"/>
<text class="te" x="607" y="3429"><tspan x="607">真仔细，</tspan><tspan x="607" dy="14.6">因为作业</tspan></text>
<rect class="b" x="376" y="3493" width="237" height="67" rx="5"/>
<text class="te" x="607" y="3508"><tspan x="607">，针对错</tspan><tspan x="607" dy="14.6">划上一个</tspan><tspan x="607" dy="14.6">知学生</tspan></text>
<rect class="b" x="376" y="3587" width="237" height="97" rx="5"/>
<text class="te" x="607" y="3604"><tspan x="607">弃希望。</tspan><tspan x="607" dy="14.3">的问题，</tspan><tspan x="607" dy="14.3">题，要在</tspan><tspan x="607" dy="14.3">难度。尽</tspan><tspan x="607" dy="14.3">培优补差</tspan></text>
<rect class="b" x="376" y="3710" width="237" height="82" rx="5"/>
<text class="te" x="607" y="3726"><tspan x="607">秀教师，</tspan><tspan x="607" dy="14.6">。"雄</tspan><tspan x="607" dy="14.6">在以后的</tspan><tspan x="607" dy="14.6">激情飞扬"</tspan></text>
<rect class="b" x="380" y="3818" width="237" height="98" rx="5"/>
<text class="te" x="612" y="3834"><tspan x="612">手制作课件</tspan><tspan x="612" dy="14.7">整合，摸索</tspan><tspan x="612" dy="14.7">的时间，把</tspan><tspan x="612" dy="14.7">有声有形、</tspan><tspan x="612" dy="14.7">教学模式，</tspan></text>
<rect class="b" x="380" y="3942" width="237" height="112" rx="5"/>
<text class="te" x="612" y="3958"><tspan x="612">地理知识有</tspan><tspan x="612" dy="14.6">他们开始</tspan><tspan x="612" dy="14.6">海洋知识、</tspan><tspan x="612" dy="14.6">发展与合</tspan><tspan x="612" dy="14.6">识到学习地</tspan><tspan x="612" dy="14.6">理的重要性</tspan></text>
<text class="te" x="583" y="4046">朋友。</text>
<rect class="b" x="380" y="4080" width="237" height="112" rx="5"/>
<text class="te" x="612" y="4097"><tspan x="612">自然的依恋</tspan><tspan x="612" dy="14.4">身的社会生</tspan><tspan x="612" dy="14.4">地理提高着</tspan><tspan x="612" dy="14.4">切让学生德</tspan><tspan x="612" dy="14.4">面向现代化</tspan><tspan x="612" dy="14.4">求我们去培</tspan></text>
<rect class="b" x="380" y="4217" width="237" height="112" rx="5"/>
<text class="te" x="612" y="4235"><tspan x="612">展观念。在</tspan><tspan x="612" dy="14.4">境是人类赖</tspan><tspan x="612" dy="14.4">理环境中的</tspan><tspan x="612" dy="14.4">，就能促进</tspan><tspan x="612" dy="14.4">会出现生</tspan><tspan x="612" dy="14.4">及人类生存</tspan></text>
<rect class="b" x="380" y="4356" width="237" height="110" rx="5"/>
<text class="te" x="612" y="4372"><tspan x="612">面向全世</tspan><tspan x="612" dy="14.6">中，我用</tspan><tspan x="612" dy="14.6">和国家的居</tspan><tspan x="612" dy="14.6">然条件发展</tspan><tspan x="612" dy="14.6">所出现的程</tspan><tspan x="612" dy="14.6">，增强了学</tspan></text>
<rect class="b" x="380" y="4493" width="237" height="127" rx="5"/>
<text class="te" x="612" y="4511"><tspan x="612">，也促进了</tspan><tspan x="612" dy="14.5">教学时，我</tspan><tspan x="612" dy="14.5">识联系生活</tspan><tspan x="612" dy="14.5">下基础，让</tspan><tspan x="612" dy="14.5">社会现象、</tspan><tspan x="612" dy="14.5">教学内容有</tspan><tspan x="612" dy="14.5">同时也扩展</tspan></text>
<rect class="b" x="380" y="4646" width="237" height="99" rx="5"/>
<text class="te" x="612" y="4664"><tspan x="612">解了我们祖</tspan><tspan x="612" dy="14.4">加热爱它。</tspan><tspan x="612" dy="14.4">资源少的现</tspan><tspan x="612" dy="14.4">家乡的情感</tspan><tspan x="612" dy="14.4">感，从而从</tspan></text>
<text class="te" x="593" y="4736">的志向。</text>
<rect class="b" x="380" y="4770" width="237" height="68" rx="5"/>
<text class="te" x="612" y="4787"><tspan x="612">新课改，提</tspan><tspan x="612" dy="14.5">理学习变为</tspan><tspan x="612" dy="14.5">并获取知识</tspan></text>
<rect class="b" x="380" y="4864" width="237" height="54" rx="5"/>
<text class="te" x="612" y="4881"><tspan x="612">力和协作、</tspan><tspan x="612" dy="14.4">对祖国、家</tspan></text>
</g>
<g id="s5n4"><rect class="b" x="918" y="5014" width="101" height="23" rx="5"/><text class="t" x="923" y="5029">四、出勤纪律方面</text></g>
<g id="s5n4a"><rect class="b" x="658" y="4944" width="237" height="69" rx="5"/><text class="t" x="663" y="4960"><tspan x="663">一年来，我严格遵守学校的各项规章制度，从</tspan><tspan x="663" dy="14.6">不迟到、早退，更无旷课现象，尽量做到有事</tspan><tspan x="663" dy="14.6">少请假，确需请假，待领导批准后，方能离开</tspan><tspan x="663" dy="14.6">，严以律己。</tspan></text></g>
<g id="s5n4b"><rect class="b" x="658" y="5039" width="237" height="67" rx="5"/><text class="t" x="663" y="5054"><tspan x="663">这就是我在这一年中的所作所为。虽然通过师</tspan><tspan x="663" dy="14.6">生的共同努力，取得了较好的效果。但离人民</tspan><tspan x="663" dy="14.6">的期望还有差距。人生在勤，不索何获?努力</tspan><tspan x="663" dy="14.6">会有回报。</tspan></text></g>
<g id="watermarks">
<text class="w" transform="translate(650,520) rotate(-31)">树图 shutu.cn</text>
<text class="w" transform="translate(1936,520) rotate(-31)">树图 shutu.cn</text>
<text class="w" transform="translate(650,1540) rotate(-31)">树图 shutu.cn</text>
<text class="w" transform="translate(1936,1540) rotate(-31)">树图 shutu.cn</text>
<text class="w" transform="translate(650,2525) rotate(-31)">树图 shutu.cn</text>
<text class="w" transform="translate(1936,2525) rotate(-31)">树图 shutu.cn</text>
<text class="w" transform="translate(650,3515) rotate(-31)">树图 shutu.cn</text>
<text class="w" transform="translate(1936,3505) rotate(-31)">树图 shutu.cn</text>
<text class="w" transform="translate(650,4530) rotate(-31)">树图 shutu.cn</text>
<text class="w" transform="translate(1936,4520) rotate(-31)">树图 shutu.cn</text>
</g>
</g>
</svg>
